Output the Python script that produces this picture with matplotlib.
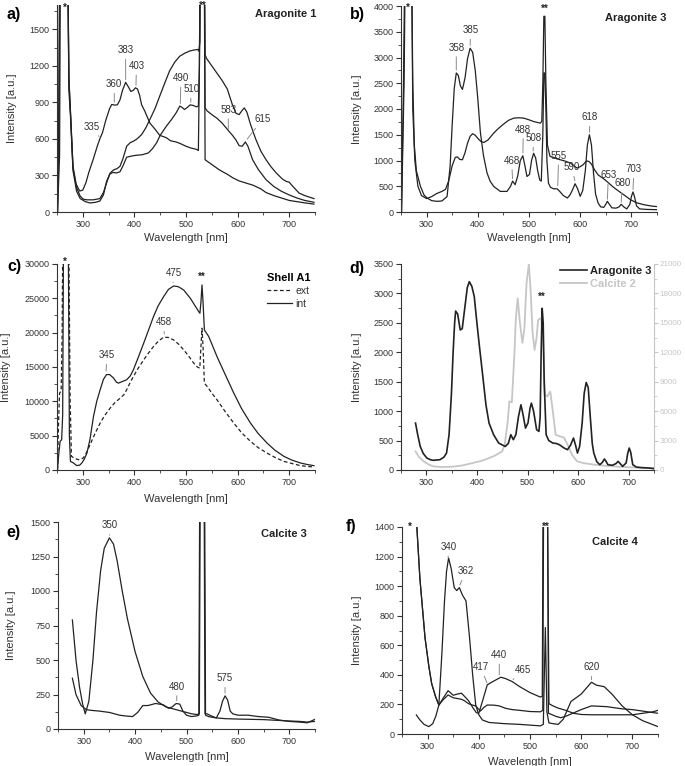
import numpy as np
import matplotlib.pyplot as plt
from matplotlib.lines import Line2D

plt.rcParams['font.family'] = ['Liberation Sans', 'DejaVu Sans']
plt.rcParams['font.size'] = 7

INK = '#222222'
TXT = '#333333'
GRAY = '#c6c6c6'
LEAD = '#8a8a8a'

# ---- a) Aragonite 1 ----
a1_x = [251, 254, 256, 266, 271, 273, 276, 281, 287, 294, 300, 306, 312, 320, 328, 333, 338, 345, 352, 356, 362, 367,
        372, 377, 383, 388, 393, 398, 402, 406, 410, 414, 420, 430, 440, 449, 462, 470, 481, 490, 500, 510, 520, 524,
        526, 528, 535, 537, 540, 550, 565, 580, 591, 603, 616, 630, 645, 655, 670, 685, 700, 715, 730, 748]
a1_y = [0, 900, 2500, 2500, 2000, 1100, 840, 375, 230, 172, 180, 240, 330, 430, 540, 600, 650, 760, 850, 883, 878, 880,
        920, 1000, 1065, 1030, 990, 1000, 1020, 1010, 960, 880, 830, 730, 680, 630, 610, 585, 575, 560, 540, 525, 515,
        505, 1200, 2500, 2500, 430, 420, 390, 345, 310, 280, 255, 238, 220, 190, 160, 135, 115, 95, 85, 75, 65]
a2_x = [251, 253, 256, 266, 271, 273, 276, 281, 288, 295, 301, 308, 320, 333, 340, 347, 353, 358, 362, 366, 372, 378,
        385, 392, 398, 405, 414, 422, 430, 440, 449, 458, 468, 478, 488, 498, 507, 515, 523, 525, 527, 528, 535, 537,
        540, 550, 560, 570, 580, 590, 597, 603, 608, 613, 618, 625, 635, 645, 655, 665, 675, 687, 695, 700, 705, 719,
        730, 748]
a2_y = [0, 600, 2500, 2500, 2000, 1100, 820, 360, 200, 130, 105, 100, 100, 110, 160, 250, 320, 340, 350, 355, 375, 440,
        540, 570, 581, 600, 636, 690, 760, 850, 951, 1050, 1157, 1230, 1280, 1305, 1322, 1330, 1335, 1320, 1400, 2500,
        2500, 1290, 1260, 1200, 1140, 1080, 1010, 880, 810, 800, 830, 855, 820, 720, 600, 500, 430, 370, 320, 270, 250,
        245, 220, 156, 135, 110]
a3_x = [251, 255, 257, 266, 271, 273, 276, 281, 288, 295, 305, 314, 325, 333, 340, 346, 352, 358, 365, 372, 378, 385,
        395, 404, 415, 427, 435, 443, 450, 462, 472, 481, 488, 492, 497, 503, 508, 514, 520, 524, 526, 528, 535, 537,
        541, 550, 560, 570, 578, 583, 590, 597, 603, 609, 615, 620, 629, 640, 655, 670, 685, 700, 715, 730, 748]
a3_y = [0, 460, 2500, 2500, 2000, 1000, 800, 340, 170, 110, 85, 74, 80, 90, 140, 250, 310, 325, 321, 330, 380, 450,
        460, 466, 470, 485, 520, 568, 630, 705, 760, 815, 870, 860, 842, 860, 880, 875, 864, 869, 1200, 2500, 2500,
        855, 830, 800, 770, 730, 690, 664, 630, 590, 545, 540, 575, 540, 430, 350, 266, 210, 170, 140, 115, 95, 80]

# ---- b) Aragonite 3 ----
b1_x = [251, 255, 257, 266, 271, 273, 276, 280, 288, 295, 301, 310, 321, 330, 340, 346, 350, 354, 358, 362, 366, 370,
        375, 380, 385, 390, 395, 400, 405, 411, 418, 424, 431, 444, 457, 464, 468, 473, 478, 483, 488, 492, 496, 501,
        505, 509, 513, 517, 521, 524, 527, 529, 531, 533, 535, 538, 542, 548, 555, 560, 567, 575, 580, 585, 590, 595,
        600, 605, 610, 614, 618, 622, 626, 630, 635, 640, 646, 650, 653, 657, 662, 670, 676, 680, 685, 691, 697, 700,
        703, 706, 710, 716, 730, 750]
b1_y = [0, 2600, 4500, 4500, 4500, 2500, 1300, 800, 497, 330, 271, 220, 207, 215, 300, 900, 1700, 2400, 2700, 2650,
        2450, 2380, 2600, 2980, 3180, 3100, 2750, 2200, 1550, 1100, 760, 600, 497, 400, 400, 500, 600, 530, 700, 1000,
        1092, 900, 690, 730, 1000, 1140, 1050, 800, 620, 600, 1500, 2700, 2700, 2000, 1000, 560, 480, 450, 450, 400,
        320, 271, 330, 430, 549, 450, 304, 420, 800, 1300, 1500, 1300, 756, 350, 174, 100, 90, 150, 207, 150, 80, 75,
        100, 150, 100, 60, 150, 300, 390, 300, 120, 60, 50, 45]
b2_x = [251, 254, 256, 258, 266, 271, 273, 277, 283, 290, 300, 310, 320, 330, 337, 343, 350, 356, 360, 365, 370, 375,
        380, 385, 390, 395, 400, 406, 412, 420, 431, 440, 451, 460, 470, 480, 490, 500, 509, 516, 522, 525, 527, 529,
        531, 533, 536, 541, 548, 555, 561, 570, 581, 587, 594, 600, 606, 612, 617, 622, 628, 635, 645, 652, 665, 680,
        690, 698, 710, 725, 740, 750]
b2_y = [0, 1500, 2500, 4500, 4500, 4500, 2000, 1000, 500, 320, 260, 300, 360, 400, 440, 600, 900, 1060, 1070, 1020,
        1015, 1150, 1338, 1470, 1520, 1490, 1430, 1370, 1350, 1400, 1531, 1620, 1712, 1780, 1822, 1830, 1822, 1790,
        1757, 1740, 1725, 1760, 2500, 3800, 3800, 2500, 1300, 1080, 1060, 1030, 1015, 990, 950, 900, 853, 880, 920,
        990, 982, 930, 820, 720, 650, 595, 480, 370, 300, 239, 180, 140, 115, 105]

# ---- c) Shell A1 ----
c_int_x = [251, 253, 256, 259, 261, 262.5, 272, 274, 276, 282, 288, 294, 298, 303, 308, 314, 320.7, 327, 333.6, 340,
           346, 352, 359.5, 365, 369, 377, 385, 392, 398, 408, 418, 428, 437, 446, 456.6, 466, 476, 485, 495.5, 502,
           508.4, 516, 524.6, 527, 529, 531, 533, 535.6, 544, 552, 560, 576, 592.6, 608, 625, 640, 657, 672, 689.6,
           705, 722, 735, 748]
c_int_y = [0, 2000, 4170, 4400, 8000, 32000, 32000, 5000, 1260, 1018, 650, 700, 1018, 1600, 2472, 4500, 7800, 10000,
           11680, 13200, 13900, 13900, 13400, 12800, 12650, 12900, 13140, 13700, 14590, 16500, 18470, 20500, 22340,
           23900, 25250, 26300, 26800, 26700, 26220, 25600, 25010, 24100, 23070, 22830, 24500, 26950, 24500, 20400,
           19440, 18000, 16530, 13900, 11200, 8900, 6830, 5300, 3930, 2900, 1990, 1450, 1018, 800, 630]
c_ext_x = [251, 253, 255, 258, 260, 261, 273, 275.5, 278, 284, 291.6, 301, 307, 314, 323, 333.6, 343, 353, 362, 372.5,
           380, 385, 391, 398, 408, 418, 428, 437, 447, 456.6, 466, 476, 486, 495.5, 505, 515, 522, 526.7, 529, 531,
           533, 535.6, 541, 550, 560, 576, 592.6, 608, 625, 640, 657, 672, 689.6, 705, 722, 735, 748]
c_ext_y = [0, 7000, 11200, 11500, 20000, 32000, 32000, 10000, 1990, 1700, 1500, 1745, 2500, 3680, 5200, 6830, 8000,
           9015, 9800, 10470, 11000, 11680, 12600, 13620, 14900, 16040, 17100, 17980, 18800, 19340, 19300, 18950,
           18300, 17500, 16600, 15560, 15000, 14830, 18000, 20650, 18000, 12650, 12170, 11200, 10230, 8500, 6830, 5400,
           4170, 3250, 2470, 1850, 1260, 950, 630, 520, 436]

# ---- d) Aragonite 3 vs Calcite 2 ----
d_ara_x = [278.7, 283, 288, 294, 301, 308, 314, 320, 327, 335, 340, 345, 349.7, 353, 356, 358, 362, 367, 371, 376, 381,
           385, 390, 394.8, 400, 405, 411, 418, 424, 433, 443, 456, 462, 467, 472, 477, 482, 487, 491, 496, 501, 505,
           507.7, 512, 518, 522.6, 525, 527, 529, 531, 533, 536.8, 542, 550, 557, 563, 571, 579, 585, 590.9, 595,
           598.7, 603, 608, 612, 616, 620, 624, 628, 631, 637, 643, 648, 652, 655, 659, 668, 675, 679, 683, 688, 695,
           698, 701, 704, 708, 715, 725, 740, 750]
d_ara_y = [797, 600, 400, 280, 204, 175, 164, 170, 175, 220, 288, 600, 1300, 2000, 2500, 2700, 2650, 2380, 2400, 2750,
           3100, 3200, 3120, 2946, 2500, 2100, 1645, 1100, 797, 600, 458, 400, 450, 600, 515, 600, 900, 1108, 950, 712,
           800, 1050, 1136, 1000, 684, 656, 900, 2000, 2748, 2500, 1500, 600, 500, 458, 450, 430, 380, 345, 420, 543,
           420, 288, 400, 797, 1300, 1487, 1400, 910, 450, 288, 140, 90, 130, 187, 150, 90, 80, 110, 147, 110, 62, 120,
           280, 373, 300, 90, 50, 40, 34, 23]
d_cal_x = [278.7, 286, 295, 305, 314, 330, 350, 370, 391.6, 410, 424, 435, 445, 450, 455, 461, 464, 469, 474, 477,
           480.7, 485, 490, 494, 498, 502.7, 506, 510, 514, 518, 521, 527, 531, 534, 539, 545, 550, 555.6, 563, 572,
           580, 588, 598, 611, 630, 650, 680, 714, 740, 750]
d_cal_y = [1900, 1300, 880, 550, 373, 300, 330, 450, 712, 950, 1220, 1450, 1750, 1900, 2600, 4950, 7000, 6900, 11700,
           15500, 17500, 15000, 12960, 14500, 19000, 21000, 18500, 14000, 12250, 13500, 15300, 15500, 13000, 7660, 7500,
           8000, 6000, 3600, 3450, 3320, 2500, 1560, 880, 700, 560, 450, 330, 250, 210, 190]

# ---- e) Calcite 3 ----
e1_x = [278, 285, 292, 298, 303, 310, 318, 325, 333, 340, 350, 358, 365, 375, 385, 400, 415, 430, 445, 460, 470, 480,
        490, 500, 510, 520, 525, 527, 535, 537, 543, 550, 560, 575, 600, 625, 650, 675, 700, 720, 735, 750]
e1_y = [790, 500, 300, 180, 110, 200, 500, 850, 1150, 1310, 1385, 1340, 1220, 1000, 800, 560, 380, 260, 195, 160, 150,
        140, 130, 120, 110, 105, 110, 2000, 2000, 100, 90, 85, 80, 75, 72, 70, 68, 63, 58, 55, 50, 55]
e2_x = [278, 285, 295, 305, 315, 330, 350, 370, 380, 395, 405, 415, 425, 440, 455, 465, 472, 480, 487, 493, 500, 510,
        520, 524, 526, 534, 536, 540, 548, 558, 565, 570, 575, 580, 585, 590, 600, 620, 640, 660, 680, 700, 720, 735,
        750]
e2_y = [368, 250, 170, 140, 135, 130, 120, 100, 95, 90, 120, 170, 170, 185, 175, 150, 160, 185, 180, 130, 100, 90,
        95, 100, 2000, 2000, 110, 110, 95, 80, 130, 200, 240, 210, 130, 110, 100, 100, 90, 85, 65, 55, 50, 45, 70]

# ---- f) Calcite 4 ----
f1_x = [278, 285, 293, 302.5, 310, 316, 322, 328, 333, 337, 341, 346, 352, 357, 362, 368, 375, 382, 388, 394, 400, 407,
        420, 450, 480, 500, 520, 526, 530, 533, 537, 545, 555, 565, 580, 600, 610, 620, 630, 645, 660, 680, 700, 720,
        750]
f1_y = [129, 95, 65, 50, 70, 120, 196, 550, 900, 1100, 1190, 1120, 990, 970, 990, 940, 900, 650, 400, 196, 130, 95,
        78, 70, 65, 60, 55, 65, 720, 150, 75, 70, 65, 100, 220, 270, 310, 350, 330, 320, 270, 190, 130, 90, 50]
f2_x = [276, 279, 285, 295, 302.5, 308, 315.5, 322, 330, 340, 350, 358, 366, 372, 380, 388, 395, 400, 407, 416.5,
        425, 443, 452, 465, 480, 500, 520, 524, 526, 533, 537, 545, 555, 570, 585, 600, 620, 650, 680, 700, 720, 740,
        750]
f2_y = [2000, 1400, 1050, 650, 456, 340, 253, 196, 240, 293, 262, 270, 276, 255, 225, 180, 145, 140, 220, 332, 350,
        384, 375, 355, 320, 280, 250, 255, 2000, 2000, 205, 190, 175, 160, 140, 132, 130, 130, 130, 130, 140, 150, 160]
f3_x = [276, 279, 285, 295, 302.5, 308, 315.5, 322, 330, 340, 350, 358, 366, 372, 380, 388, 394, 403, 410, 416.5, 430,
        440, 452, 465, 480, 500, 520, 525, 527, 534, 536, 540, 550, 560, 570, 580, 600, 620, 650, 680, 700, 720, 750]
f3_y = [2000, 1400, 1050, 650, 456, 340, 253, 196, 230, 264, 245, 240, 235, 225, 205, 195, 190, 155, 180, 196, 195,
        190, 174, 165, 160, 152, 150, 160, 2000, 2000, 140, 135, 120, 110, 120, 135, 165, 190, 185, 170, 165, 155, 140]


def style(ax, xlim, ylim, ymajor, xmajor=100):
    ax.set_xlim(*xlim)
    ax.set_ylim(*ylim)
    for s in ['top', 'right']:
        ax.spines[s].set_visible(False)
    for s in ['left', 'bottom']:
        ax.spines[s].set_color(TXT)
        ax.spines[s].set_linewidth(0.8)
    ax.set_xticks(np.arange(300, 701, xmajor))
    ax.set_xticks(np.arange(250, 751, 50), minor=True)
    ax.set_yticks(np.arange(0, ylim[1] + 1, ymajor))
    ax.set_yticks(np.arange(0, ylim[1] + 1, ymajor / 2), minor=True)
    ax.tick_params(which='major', direction='out', length=3.5, width=0.8, color=TXT, labelcolor=TXT, labelsize=6.5,
                   pad=2)
    ax.tick_params(which='minor', direction='out', length=2, width=0.6, color=TXT)


def peak(ax, label, xy, xytext):
    ax.annotate(label, xy=xy, xytext=xytext, ha='center', va='center', fontsize=7, color=TXT,
                arrowprops=dict(arrowstyle='-', color=LEAD, lw=0.7, shrinkA=1, shrinkB=1))


def star(ax, x, y, s):
    ax.text(x, y, s, ha='center', va='center', fontsize=7, fontweight='bold', color=INK, clip_on=False)


W, H = 685, 766
fig = plt.figure(figsize=(6.85, 7.66), dpi=100)


def rect(l, t, r, b):
    return [l / W, 1 - b / H, (r - l) / W, (b - t) / H]


lw = 0.9

# a
ax = fig.add_axes(rect(57, 5, 315, 212))
for x, y in [(a1_x, a1_y), (a2_x, a2_y), (a3_x, a3_y)]:
    ax.plot(x, y, color=INK, lw=lw)
style(ax, (250, 750), (0, 1700), 300)
for lab, xy, xt in [('335', (333, 610), (318, 700)), ('360', (361, 890), (361, 1050)), ('383', (383, 1075), (383, 1330)),
                    ('403', (403, 1030), (404, 1200)), ('490', (489, 880), (490, 1100)), ('510', (509, 890), (510, 1010)),
                    ('583', (582, 670), (582, 840)), ('615', (617, 590), (648, 760))]:
    peak(ax, lab, xy, xt)
star(ax, 265, 1680, '*')
star(ax, 532, 1690, '**')
ax.set_ylabel('Intensity [a.u.]', fontsize=8, color=TXT)
ax.yaxis.set_label_coords(-0.155, 0.5)
ax.set_xlabel('Wavelength [nm]', fontsize=8, color=TXT)
ax.xaxis.set_label_coords(0.5, -0.1)

# b
ax = fig.add_axes(rect(401, 6, 657, 212))
ax.plot(b1_x, b1_y, color=INK, lw=lw)
ax.plot(b2_x, b2_y, color=INK, lw=lw)
style(ax, (250, 750), (0, 4000), 500)
for lab, xy, xt in [('358', (358, 2730), (358, 3190)), ('385', (385, 3210), (386, 3530)), ('468', (468, 620), (466, 1000)),
                    ('488', (488, 1120), (489, 1600)), ('508', (508, 1160), (509, 1435)), ('555', (556, 480), (558, 1090)),
                    ('590', (590, 580), (584, 870)), ('618', (618, 1520), (619, 1840)), ('653', (653, 220), (655, 720)),
                    ('680', (680, 160), (682, 560)), ('703', (703, 410), (705, 830))]:
    peak(ax, lab, xy, xt)
star(ax, 263, 3960, '*')
star(ax, 530, 3950, '**')
ax.set_ylabel('Intensity [a.u.]', fontsize=8, color=TXT)
ax.yaxis.set_label_coords(-0.152, 0.5)
ax.set_xlabel('Wavelength [nm]', fontsize=8, color=TXT)
ax.xaxis.set_label_coords(0.5, -0.1)

# c
ax = fig.add_axes(rect(57, 264, 315, 470))
ax.plot(c_ext_x, c_ext_y, color=INK, lw=lw, ls=(0, (3, 2)), label='ext')
ax.plot(c_int_x, c_int_y, color=INK, lw=lw, label='int')
style(ax, (250, 750), (0, 30000), 5000)
for lab, xy, xt in [('345', (345, 14200), (347, 16700)), ('458', (458, 19600), (457, 21500)),
                    ('475', (475, 27100), (476, 28700))]:
    peak(ax, lab, xy, xt)
star(ax, 265, 30300, '*')
star(ax, 530, 28200, '**')
leg = ax.legend(loc='upper right', bbox_to_anchor=(1.02, 1.0), frameon=False, fontsize=7.5, handlelength=2.4,
                handletextpad=0.3, labelspacing=0.25, title='Shell A1',
                title_fontproperties={'weight': 'bold', 'size': 8}, alignment='left')
for t in leg.get_texts():
    t.set_color(TXT)
ax.set_ylabel('Intensity [a.u.]', fontsize=8, color=TXT)
ax.yaxis.set_label_coords(-0.178, 0.5)
ax.set_xlabel('Wavelength [nm]', fontsize=8, color=TXT)
ax.xaxis.set_label_coords(0.5, -0.115)

# d
ax = fig.add_axes(rect(401, 264, 654, 470))
ax2 = ax.twinx()
ax2.plot(d_cal_x, d_cal_y, color=GRAY, lw=1.3)
ax.plot(d_ara_x, d_ara_y, color=INK, lw=1.2)
ax.set_zorder(ax2.get_zorder() + 1)
ax.patch.set_visible(False)
style(ax, (250, 750), (0, 3500), 500)
ax2.set_ylim(0, 21000)
ax2.set_yticks(np.arange(0, 21001, 3000))
ax2.set_yticks(np.arange(0, 21001, 1500), minor=True)
for s in ['top', 'left', 'bottom']:
    ax2.spines[s].set_visible(False)
ax2.spines['right'].set_color(GRAY)
ax2.tick_params(which='major', direction='out', length=3, width=0.8, color=GRAY, labelcolor=GRAY, labelsize=5.8,
                pad=1)
ax2.tick_params(which='minor', direction='out', length=1.8, width=0.6, color=GRAY)
star(ax, 528, 2950, '**')
handles = [Line2D([], [], color=INK, lw=1.2), Line2D([], [], color=GRAY, lw=1.3)]
leg = ax.legend(handles, ['Aragonite 3', 'Calcite 2'], loc='upper right', bbox_to_anchor=(1.03, 1.04),
                frameon=False, prop={'weight': 'bold', 'size': 8}, handlelength=2.4, handletextpad=0.3,
                labelspacing=0.25)
leg.get_texts()[0].set_color(INK)
leg.get_texts()[1].set_color(GRAY)
ax.set_ylabel('Intensity [a.u.]', fontsize=8, color=TXT)
ax.yaxis.set_label_coords(-0.154, 0.5)

# e
ax = fig.add_axes(rect(58, 522, 315, 729))
ax.plot(e1_x, e1_y, color=INK, lw=lw)
ax.plot(e2_x, e2_y, color=INK, lw=lw)
style(ax, (275, 750), (0, 1500), 250)
ax.set_yticks(np.arange(0, 1501, 125), minor=True)
for lab, xy, xt in [('350', (350, 1395), (351, 1475)), ('480', (481, 195), (481, 307)), ('575', (575, 250), (575, 368))]:
    peak(ax, lab, xy, xt)
ax.set_ylabel('Intensity [a.u.]', fontsize=8, color=TXT)
ax.yaxis.set_label_coords(-0.163, 0.5)
ax.set_xlabel('Wavelength [nm]', fontsize=8, color=TXT)
ax.xaxis.set_label_coords(0.5, -0.11)

# f
ax = fig.add_axes(rect(402, 527, 658, 734))
for x, y in [(f1_x, f1_y), (f2_x, f2_y), (f3_x, f3_y)]:
    ax.plot(x, y, color=INK, lw=lw)
style(ax, (250, 750), (0, 1400), 200)
for lab, xy, xt in [('340', (340, 1195), (342, 1265)), ('362', (362, 1000), (375, 1100)), ('417', (417, 335), (404, 452)),
                    ('440', (440, 390), (440, 535)), ('465', (465, 362), (487, 433)), ('620', (620, 358), (621, 452))]:
    peak(ax, lab, xy, xt)
star(ax, 266, 1400, '*')
star(ax, 531, 1400, '**')
ax.set_ylabel('Intensity [a.u.]', fontsize=8, color=TXT)
ax.yaxis.set_label_coords(-0.156, 0.5)
ax.set_xlabel('Wavelength [nm]', fontsize=8, color=TXT)
ax.xaxis.set_label_coords(0.5, -0.11)

# panel letters and sample names
for lab, px, py in [('a)', 14, 14), ('b)', 357, 14), ('c)', 14, 266), ('d)', 357, 268), ('e)', 13, 533),
                    ('f)', 351, 527)]:
    fig.text(px / W, 1 - py / H, lab, ha='center', va='center', fontsize=11.5, fontweight='bold', color='black')
for lab, px, py in [('Aragonite 1', 286, 14), ('Aragonite 3', 636, 18), ('Calcite 3', 284, 534),
                    ('Calcite 4', 615, 542)]:
    fig.text(px / W, 1 - py / H, lab, ha='center', va='center', fontsize=8, fontweight='bold', color=INK)

fig.savefig('out.png', dpi=100)
